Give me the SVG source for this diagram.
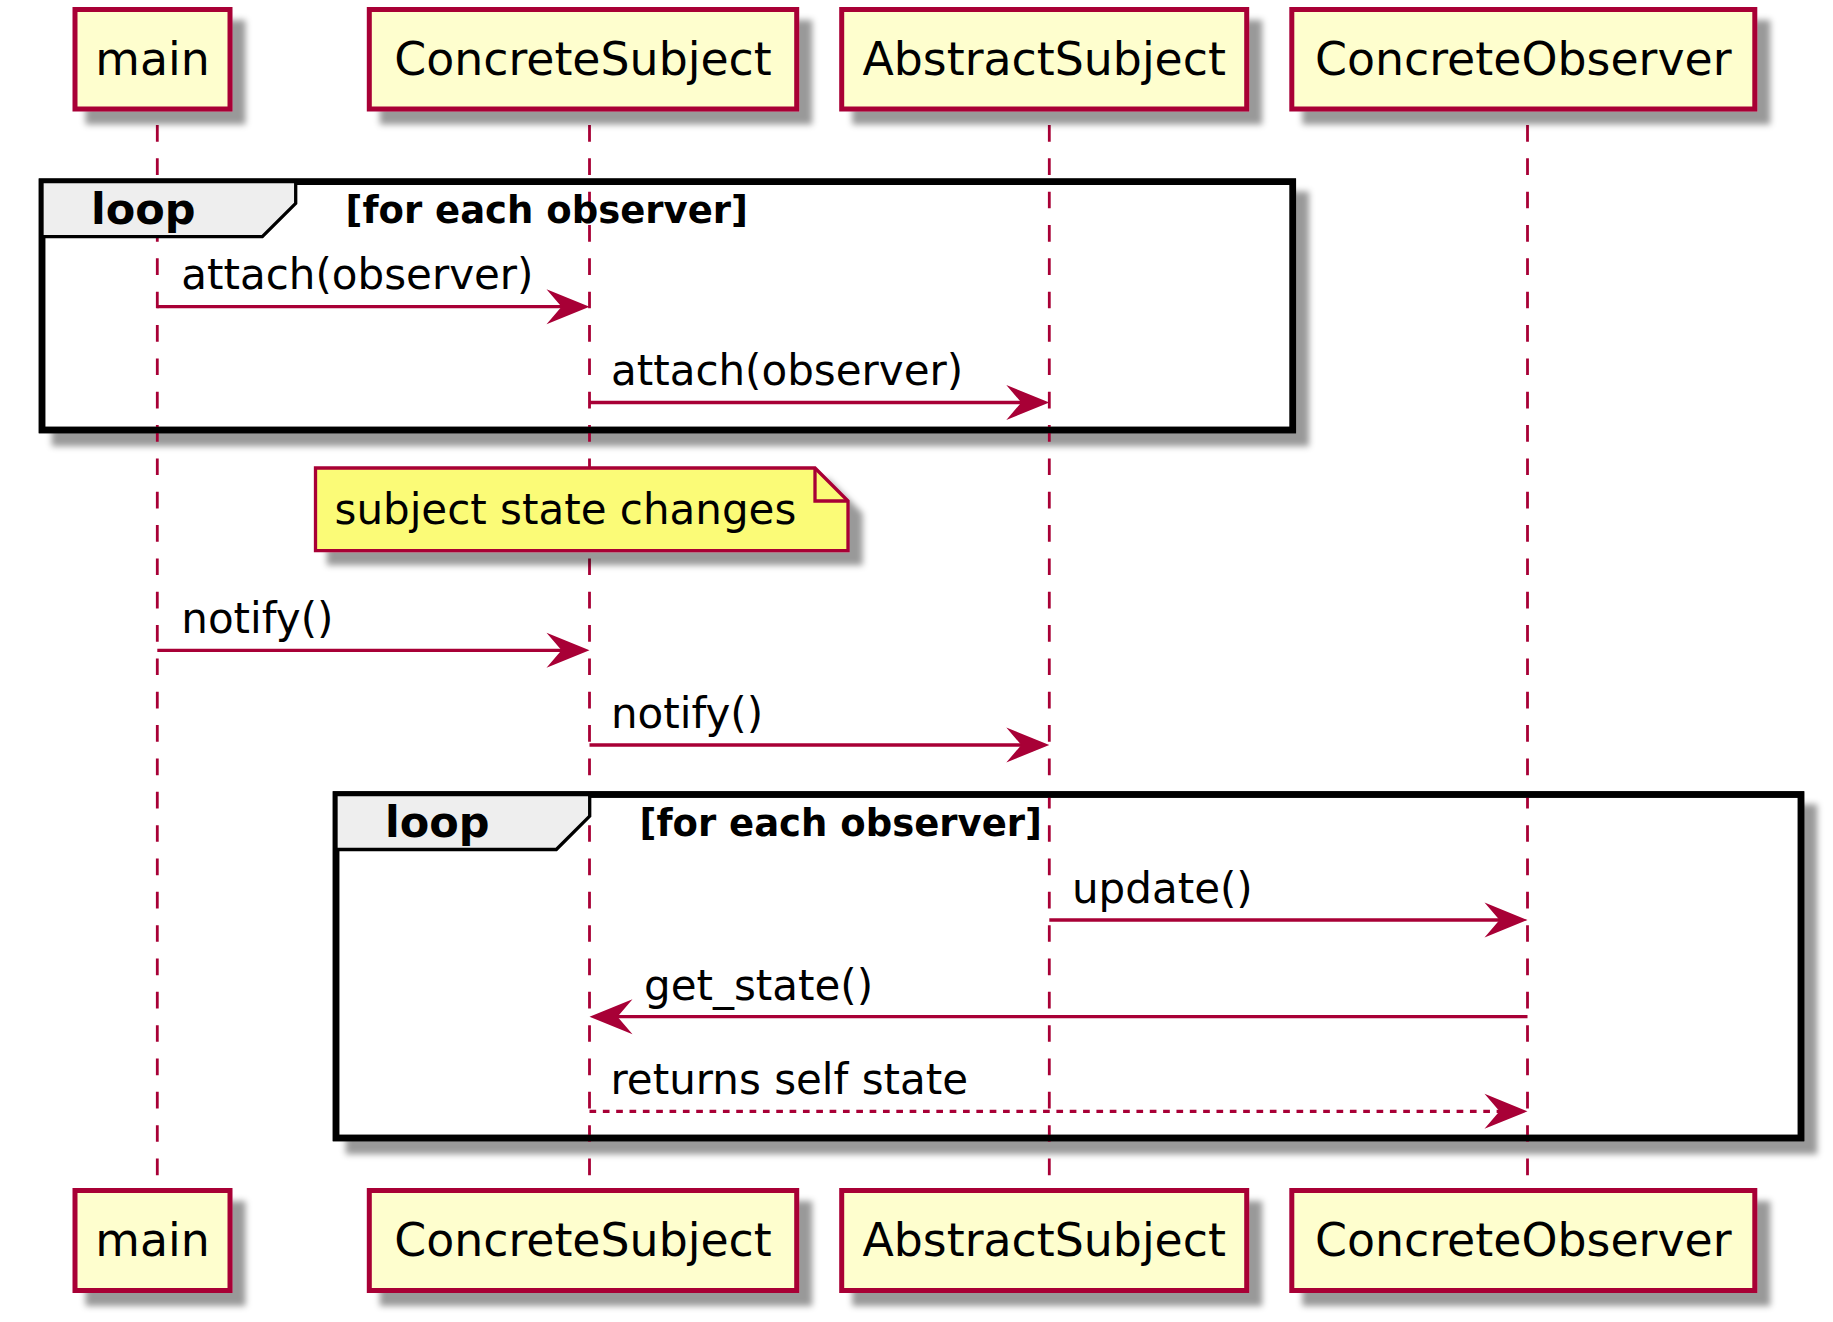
<svg xmlns="http://www.w3.org/2000/svg" width="1833" height="1322" viewBox="0 0 1833 1322">
<defs>
<filter id="sh" x="-0.1" y="-0.1" width="1.4" height="1.6">
<feGaussianBlur in="SourceAlpha" stdDeviation="3.3" result="b"/>
<feColorMatrix in="b" type="matrix" values="0 0 0 0 0  0 0 0 0 0  0 0 0 0 0  0 0 0 0.4 0" result="c"/>
<feOffset in="c" dx="13" dy="13" result="o"/>
<feMerge><feMergeNode in="o"/><feMergeNode in="SourceGraphic"/></feMerge>
</filter>
</defs>
<style>
.part{fill:#FEFECE;stroke:#A80036;stroke-width:5;filter:url(#sh)}
.ptxt{font-family:"DejaVu Sans",sans-serif;font-size:45.8px;fill:#000;text-anchor:middle}
.life{stroke:#A80036;stroke-width:2.8;stroke-dasharray:16.67,16.67}
.msg{stroke:#A80036;stroke-width:3.3;fill:none}
.dot{stroke-dasharray:6.67,6.67}
.head{fill:#A80036;stroke:none}
.mtxt{font-family:"DejaVu Sans",sans-serif;font-size:42px;fill:#000}
.frame{fill:none;stroke:#000;stroke-width:6.5}
.framebg{fill:#fff;stroke:#000;stroke-width:6.5;filter:url(#sh)}
.tab{fill:#EEEEEE;stroke:#000;stroke-width:3.3}
.ltxt{font-family:"DejaVu Sans",sans-serif;font-weight:bold;font-size:43px;fill:#000}
.gtxt{font-family:"DejaVu Sans",sans-serif;font-weight:bold;font-size:37px;fill:#000}
.note{fill:#FBFB77;stroke:#A80036;stroke-width:3.3;filter:url(#sh)}
.fold{fill:none;stroke:#A80036;stroke-width:3.3}
</style>
<rect x="0" y="0" width="1833" height="1322" fill="#fff"/>

<g id="loop1-shadow"><rect class="framebg" x="42" y="181.7" width="1250.8" height="248.3"/></g>
<g id="loop2-shadow"><rect class="framebg" x="336" y="794.5" width="1465" height="343.5"/></g>

<g id="lifelines">
<line class="life" x1="157.3" y1="125" x2="157.3" y2="1190"/>
<line class="life" x1="589.5" y1="125" x2="589.5" y2="1190"/>
<line class="life" x1="1049.3" y1="125" x2="1049.3" y2="1190"/>
<line class="life" x1="1527.5" y1="125" x2="1527.5" y2="1190"/>
</g>

<g id="loop1">
<rect class="frame" x="42" y="181.7" width="1250.8" height="248.3"/>
<path class="tab" d="M42,181.7 H295.7 V203.3 L262.3,236.7 H42 Z"/>
<text class="ltxt" x="91" y="224">loop</text>
<text class="gtxt" x="345.5" y="223">[for each observer]</text>
</g>

<g id="loop2">
<rect class="frame" x="336" y="794.5" width="1465" height="343.5"/>
<path class="tab" d="M336,794.5 H589.7 V816.1 L556.3,849.5 H336 Z"/>
<text class="ltxt" x="385" y="836.8">loop</text>
<text class="gtxt" x="639.5" y="835.8">[for each observer]</text>
</g>

<g id="note">
<path class="note" d="M315.5,468 H815 L848,501 V550.7 H315.5 Z"/>
<path class="fold" d="M815,468 V501 H848"/>
<text class="mtxt" x="334.5" y="524">subject state changes</text>
</g>

<g id="p-main-top"><rect class="part" x="75" y="9.5" width="155" height="99.5"/><text class="ptxt" x="152.5" y="75">main</text></g>
<g id="p-cs-top"><rect class="part" x="369.3" y="9.5" width="427.4" height="99.5"/><text class="ptxt" x="583" y="75">ConcreteSubject</text></g>
<g id="p-as-top"><rect class="part" x="841.7" y="9.5" width="405" height="99.5"/><text class="ptxt" x="1044.2" y="75">AbstractSubject</text></g>
<g id="p-co-top"><rect class="part" x="1291.8" y="9.5" width="463" height="99.5"/><text class="ptxt" x="1523.3" y="75">ConcreteObserver</text></g>

<g id="p-main-bottom"><rect class="part" x="75" y="1190.5" width="155" height="100"/><text class="ptxt" x="152.5" y="1256">main</text></g>
<g id="p-cs-bottom"><rect class="part" x="369.3" y="1190.5" width="427.4" height="100"/><text class="ptxt" x="583" y="1256">ConcreteSubject</text></g>
<g id="p-as-bottom"><rect class="part" x="841.7" y="1190.5" width="405" height="100"/><text class="ptxt" x="1044.2" y="1256">AbstractSubject</text></g>
<g id="p-co-bottom"><rect class="part" x="1291.8" y="1190.5" width="463" height="100"/><text class="ptxt" x="1523.3" y="1256">ConcreteObserver</text></g>

<g id="connectors">
<line class="msg" x1="157.3" y1="306.7" x2="570" y2="306.7"/>
<polygon class="head" points="589.5,306.7 546.5,289.2 561.5,306.7 546.5,324.2"/>
<text class="mtxt" x="181.3" y="289.3">attach(observer)</text>

<line class="msg" x1="589.5" y1="402.5" x2="1030" y2="402.5"/>
<polygon class="head" points="1049.3,402.5 1006.3,385 1021.3,402.5 1006.3,420"/>
<text class="mtxt" x="611" y="385.3">attach(observer)</text>

<line class="msg" x1="157.3" y1="650.3" x2="570" y2="650.3"/>
<polygon class="head" points="589.5,650.3 546.5,632.8 561.5,650.3 546.5,667.8"/>
<text class="mtxt" x="181.3" y="632.8">notify()</text>

<line class="msg" x1="589.5" y1="745" x2="1030" y2="745"/>
<polygon class="head" points="1049.3,745 1006.3,727.5 1021.3,745 1006.3,762.5"/>
<text class="mtxt" x="611" y="727.6">notify()</text>

<line class="msg" x1="1049.3" y1="920" x2="1508" y2="920"/>
<polygon class="head" points="1527.5,920 1484.5,902.5 1499.5,920 1484.5,937.5"/>
<text class="mtxt" x="1072" y="902.8">update()</text>

<line class="msg" x1="1527.5" y1="1016.7" x2="609" y2="1016.7"/>
<polygon class="head" points="589.5,1016.7 632.5,999.2 617.5,1016.7 632.5,1034.2"/>
<text class="mtxt" x="644" y="999.5">get_state()</text>

<line class="msg dot" x1="589.5" y1="1111.3" x2="1508" y2="1111.3"/>
<polygon class="head" points="1527.5,1111.3 1484.5,1093.8 1499.5,1111.3 1484.5,1128.8"/>
<text class="mtxt" x="610.5" y="1094">returns self state</text>
</g>
</svg>
